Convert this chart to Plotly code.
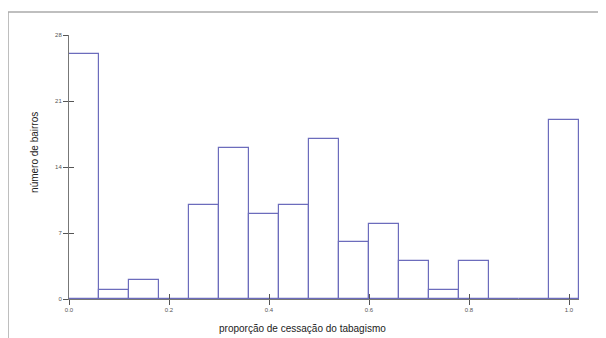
import plotly.graph_objects as go

bin_start = [0.00, 0.06, 0.12, 0.18, 0.24, 0.30, 0.36, 0.42, 0.48, 0.54,
             0.60, 0.66, 0.72, 0.78, 0.84, 0.90, 0.96]
bin_width = 0.06
counts = [26, 1, 2, 0, 10, 16, 9, 10, 17, 6, 8, 4, 1, 4, 0, 0, 19]
x_ticks = [0.0, 0.2, 0.4, 0.6, 0.8, 1.0]
x_tick_labels = ["0.0", "0.2", "0.4", "0.6", "0.8", "1.0"]
y_ticks = [0, 7, 14, 21, 28]
x_title = "proporção de cessação do tabagismo"
y_title = "número de bairros"

centers = [s + bin_width / 2 for s in bin_start]

fig = go.Figure()
fig.add_trace(go.Bar(
    x=centers, y=counts, width=bin_width,
    marker=dict(color="white", line=dict(color="#6c6cbc", width=1.2)),
    showlegend=False, hoverinfo="x+y",
))
fig.add_trace(go.Scatter(x=[0, 1], y=[0, 0], xaxis="x2", yaxis="y2",
                         mode="none", showlegend=False, hoverinfo="skip"))

tickfont = dict(family="Liberation Sans, Arial", size=6, color="#555555")
titlefont = dict(family="Liberation Sans, Arial", size=10, color="#222222")
fig.update_layout(
    width=598, height=330,
    margin=dict(l=61, r=27, t=27, b=39, autoexpand=False),
    paper_bgcolor="white", plot_bgcolor="white",
    bargap=0,
    xaxis=dict(range=[0, 1.02], tickvals=x_ticks, ticktext=x_tick_labels,
               ticks="outside", ticklen=5, tickcolor="#555555", tickwidth=1,
               showgrid=False, zeroline=False, showline=True, automargin=False,
               linecolor="#777777", linewidth=1, tickfont=tickfont),
    yaxis=dict(range=[0, 28], tickvals=y_ticks,
               ticks="outside", ticklen=5, tickcolor="#555555", tickwidth=1,
               showgrid=False, zeroline=False, showline=True, automargin=False,
               linecolor="#777777", linewidth=1, tickfont=tickfont),
    xaxis2=dict(range=[0, 1.02], overlaying="x", tickvals=x_ticks, showticklabels=False,
                ticks="inside", ticklen=5, tickcolor="#555555", showgrid=False,
                zeroline=False, showline=False, automargin=False),
    yaxis2=dict(range=[0, 28], overlaying="y", tickvals=y_ticks, showticklabels=False,
                ticks="inside", ticklen=5, tickcolor="#555555", showgrid=False,
                zeroline=False, showline=False, automargin=False),
    shapes=[dict(type="path", xref="paper", yref="paper",
                 path="M -0.1196,-0.2 L -0.1196,1.087 L 1.1,1.087",
                 line=dict(color="#aaaaaa", width=1.5), layer="below")],
    annotations=[
        dict(text=x_title, xref="paper", yref="paper", x=0.457, y=-0.11,
             xanchor="center", yanchor="middle", showarrow=False, font=titlefont),
        dict(text=y_title, xref="paper", yref="paper", x=-0.0667, y=0.557,
             xanchor="center", yanchor="middle", showarrow=False, textangle=-90,
             font=titlefont),
    ],
)
fig.write_html("out.html")
